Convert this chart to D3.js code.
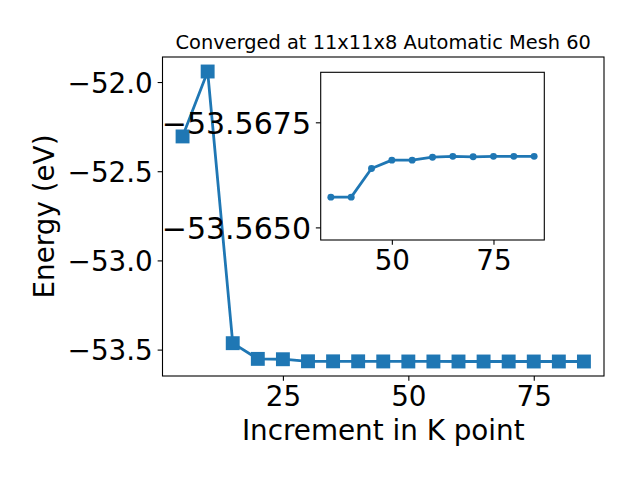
<!DOCTYPE html>
<html>
<head>
<meta charset="utf-8">
<script src="https://cdn.jsdelivr.net/npm/d3@7/dist/d3.min.js"></script>
<style>
  html, body { margin: 0; padding: 0; background: #fff; }
  svg { display: block; font-family: "DejaVu Sans", sans-serif; }
</style>
</head>
<body>
<svg id="chart" width="640" height="480"></svg>
<script>
// ---- data ----
const kPoints = [5, 10, 15, 20, 25, 30, 35, 40, 45, 50, 55, 60, 65, 70, 75, 80, 85];
const energies = [-52.305, -51.941, -53.464, -53.552, -53.554, -53.5655, -53.56572, -53.56572,
  -53.56640, -53.56660, -53.56660, -53.56667, -53.56669, -53.56668, -53.56669, -53.56669, -53.56669];
const insetK = [35, 40, 45, 50, 55, 60, 65, 70, 75, 80, 85];
const insetE = [-53.56572, -53.56572, -53.56640, -53.56660, -53.56660, -53.56667,
  -53.56669, -53.56668, -53.56669, -53.56669, -53.56669];
const xTicks = [25, 50, 75];
const yTicks = [-52.0, -52.5, -53.0, -53.5];
const insetXTicks = [50, 75];
const insetYTicks = [-53.5675, -53.5650];
const insetYDomain = [-53.56869, -53.56470]; // top, bottom (inverted axis)
const titleText = "Converged at 11x11x8 Automatic Mesh 60";
const xLabel = "Increment in K point";
const yLabel = "Energy (eV)";

const color = "#1f77b4";
const svg = d3.select("#chart");
const tickLen = 4.86, tickPad = 4.86, fontTick = 27.8;

// main axes box
const M = { left: 162.5, right: 604, top: 57, bottom: 376 };
function padDomain(vals) {
  const [a, b] = d3.extent(vals); const m = (b - a) * 0.05; return [a - m, b + m];
}
const x = d3.scaleLinear().domain(padDomain(kPoints)).range([M.left, M.right]);
const y = d3.scaleLinear().domain(padDomain(energies)).range([M.bottom, M.top]);

const main = svg.append("g");
main.append("rect").attr("x", M.left).attr("y", M.top)
  .attr("width", M.right - M.left).attr("height", M.bottom - M.top).attr("fill", "#fff");

const clipMain = svg.append("clipPath").attr("id", "clipMain").append("rect")
  .attr("x", M.left).attr("y", M.top).attr("width", M.right - M.left).attr("height", M.bottom - M.top);

const line = d3.line().x((d, i) => x(kPoints[i])).y(d => y(d));
main.append("path").datum(energies).attr("d", line)
  .attr("fill", "none").attr("stroke", color).attr("stroke-width", 2.78)
  .attr("stroke-linejoin", "round").attr("clip-path", "url(#clipMain)");
const ms = 13.9;
main.selectAll("rect.mk").data(energies).join("rect").attr("class", "mk")
  .attr("x", (d, i) => x(kPoints[i]) - ms / 2).attr("y", d => y(d) - ms / 2)
  .attr("width", ms).attr("height", ms).attr("fill", color);

function styleAxis(g, fs) {
  g.select(".domain").remove();
  g.selectAll(".tick line").attr("stroke", "#000").attr("stroke-width", 1.1);
  g.selectAll(".tick text").attr("font-size", fs || fontTick).attr("fill", "#000")
    .attr("font-family", "DejaVu Sans");
}

const xAxis = main.append("g").attr("transform", `translate(0,${M.bottom})`)
  .call(d3.axisBottom(x).tickValues(xTicks).tickFormat(d3.format("d"))
    .tickSize(tickLen).tickPadding(tickPad)).call(styleAxis);
xAxis.selectAll(".tick text").attr("dy", "0.73em");

const yAxis = main.append("g").attr("transform", `translate(${M.left},0)`)
  .call(d3.axisLeft(y).tickValues(yTicks).tickFormat(d3.format(".1f"))
    .tickSize(tickLen).tickPadding(tickPad)).call(styleAxis);
yAxis.selectAll(".tick text").attr("dy", "0.36em");

main.append("rect").attr("x", M.left).attr("y", M.top)
  .attr("width", M.right - M.left).attr("height", M.bottom - M.top)
  .attr("fill", "none").attr("stroke", "#000").attr("stroke-width", 1.1);

svg.append("text").attr("x", (M.left + M.right) / 2).attr("y", 49)
  .attr("text-anchor", "middle").attr("font-size", 19.4).text(titleText);
svg.append("text").attr("x", (M.left + M.right) / 2).attr("y", 440)
  .attr("text-anchor", "middle").attr("font-size", 27.8).text(xLabel);
svg.append("text").attr("transform", `translate(54,${(M.top + M.bottom) / 2}) rotate(-90)`)
  .attr("text-anchor", "middle").attr("font-size", 27.8).text(yLabel);

// ---- inset ----
const I = { left: 320.7, right: 544.3, top: 72.3, bottom: 240 };
const xi = d3.scaleLinear().domain(padDomain(insetK)).range([I.left, I.right]);
const yi = d3.scaleLinear().domain(insetYDomain).range([I.top, I.bottom]);
const inset = svg.append("g");
inset.append("rect").attr("x", I.left).attr("y", I.top)
  .attr("width", I.right - I.left).attr("height", I.bottom - I.top).attr("fill", "#fff");
const lineI = d3.line().x((d, i) => xi(insetK[i])).y(d => yi(d));
inset.append("path").datum(insetE).attr("d", lineI)
  .attr("fill", "none").attr("stroke", color).attr("stroke-width", 2.78).attr("stroke-linejoin", "round");
inset.selectAll("circle").data(insetE).join("circle")
  .attr("cx", (d, i) => xi(insetK[i])).attr("cy", d => yi(d)).attr("r", 3.47).attr("fill", color);

const xiAxis = inset.append("g").attr("transform", `translate(0,${I.bottom})`)
  .call(d3.axisBottom(xi).tickValues(insetXTicks).tickFormat(d3.format("d"))
    .tickSize(tickLen).tickPadding(tickPad)).call(styleAxis);
xiAxis.selectAll(".tick text").attr("dy", "0.73em");
const yiAxis = inset.append("g").attr("transform", `translate(${I.left},0)`)
  .call(d3.axisLeft(yi).tickValues(insetYTicks).tickFormat(d3.format(".4f"))
    .tickSize(tickLen).tickPadding(tickPad)).call(g => styleAxis(g, 30));
yiAxis.selectAll(".tick text").attr("dy", "0.36em");
inset.append("rect").attr("x", I.left).attr("y", I.top)
  .attr("width", I.right - I.left).attr("height", I.bottom - I.top)
  .attr("fill", "none").attr("stroke", "#000").attr("stroke-width", 1.1);
</script>
</body>
</html>
